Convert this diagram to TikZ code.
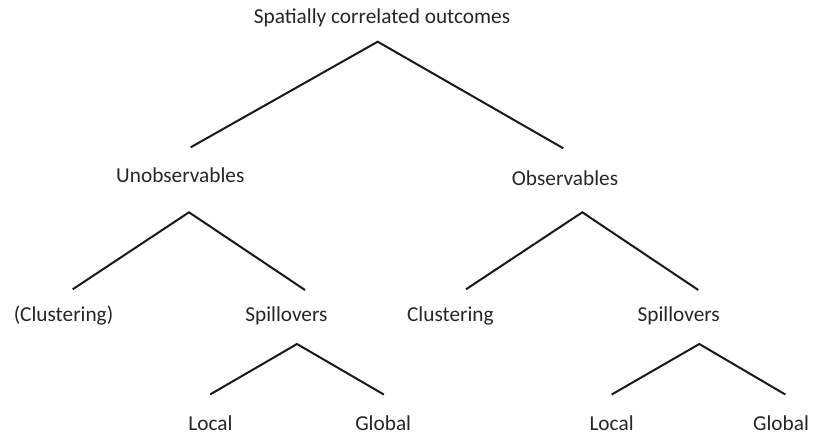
\documentclass[tikz,border=0pt]{standalone}
\usepackage{fontspec}
\setmainfont{Carlito}

\begin{document}
\begin{tikzpicture}[x=1pt, y=-1pt,
    lbl/.style={anchor=base, inner sep=0pt, font=\fontsize{21.3}{25}\selectfont, text=black!85},
    branch/.style={line width=2pt, black!90},
]
  \useasboundingbox (0,0) rectangle (814,436);

  % Top: root and its two branches
  \node[lbl] (root) at (382,23.3) {Spatially correlated outcomes};
  \coordinate (r0) at (377.7,41.7);
  \coordinate (r1) at (190.7,147.3);
  \coordinate (r2) at (563.3,148.3);
  \draw[branch] (r1) -- (r0) -- (r2);

  % Second level
  \node[lbl] (unobs) at (180.3,182.7) {Unobservables};
  \node[lbl] (obs) at (565,185.7) {Observables};
  \coordinate (u0) at (189,212.3);
  \coordinate (u1) at (72.7,289.3);
  \coordinate (u2) at (305,290);
  \draw[branch] (u1) -- (u0) -- (u2);
  \coordinate (o0) at (582.3,212.3);
  \coordinate (o1) at (466,289.3);
  \coordinate (o2) at (698.3,290);
  \draw[branch] (o1) -- (o0) -- (o2);

  % Third level
  \node[lbl] (clu1) at (63.5,321) {(Clustering)};
  \node[lbl] (spl1) at (286.4,321) {Spillovers};
  \node[lbl] (clu2) at (450.4,321) {Clustering};
  \node[lbl] (spl2) at (678.7,321) {Spillovers};
  \coordinate (s0) at (297,344);
  \coordinate (s1) at (210.1,394.5);
  \coordinate (s2) at (383.8,394.5);
  \draw[branch] (s1) -- (s0) -- (s2);
  \coordinate (t0) at (699.3,344);
  \coordinate (t1) at (611.7,394.5);
  \coordinate (t2) at (785.3,394.5);
  \draw[branch] (t1) -- (t0) -- (t2);

  % Leaves
  \node[lbl] (loc1) at (210.4,430) {Local};
  \node[lbl] (glo1) at (383.2,430) {Global};
  \node[lbl] (loc2) at (611.6,430) {Local};
  \node[lbl] (glo2) at (781,430) {Global};
\end{tikzpicture}
\end{document}
